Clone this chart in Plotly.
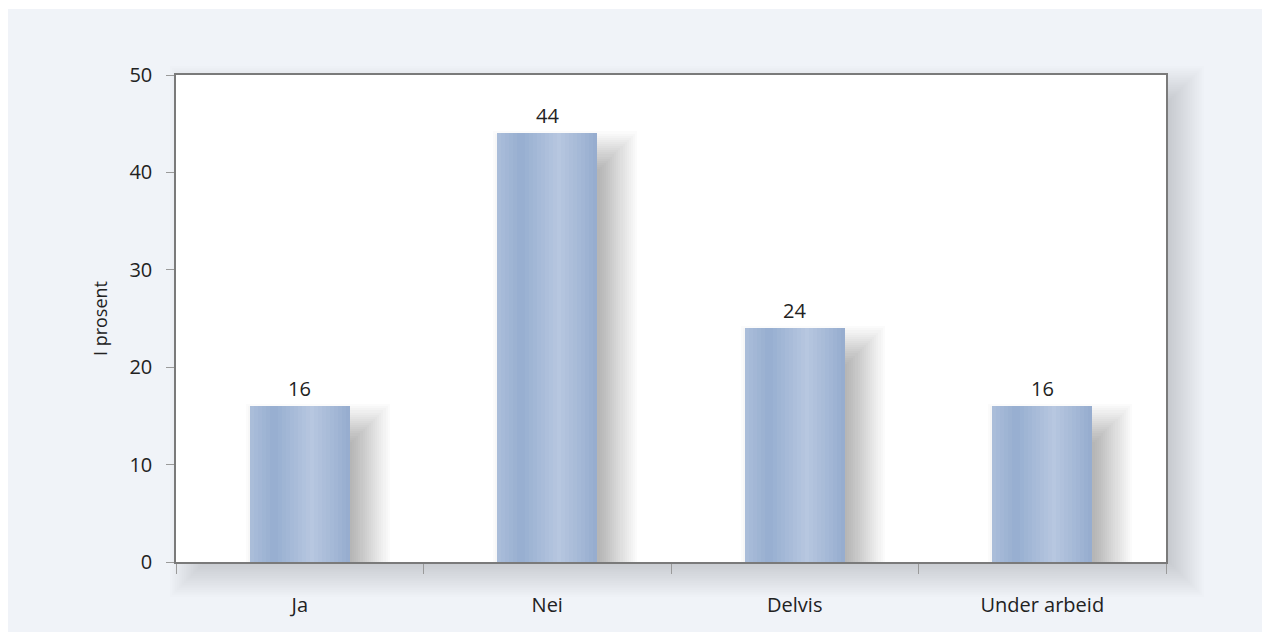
import plotly.graph_objects as go

# Survey answers (percent)
categories = ["Ja", "Nei", "Delvis", "Under arbeid"]
values = [16, 44, 24, 16]
y_ticks = [0, 10, 20, 30, 40, 50]
y_max = 50

W, H = 1270, 640
L, R, T, B = 176, 104, 75, 78
PW, PH = W - L - R, H - T - B


def px_x(px):
    return (px - L) / PW


def px_y(py):
    return (H - B - py) / PH


def lerp_color(stops, t):
    for (t0, c0), (t1, c1) in zip(stops, stops[1:]):
        if t0 <= t <= t1:
            f = (t - t0) / (t1 - t0) if t1 > t0 else 0
            return tuple(round(a + (b - a) * f) for a, b in zip(c0, c1))
    return stops[-1][1]


cat_px = PW / len(categories)
unit_px = PH / y_max
bar_w = 100 / cat_px           # bar width in category units
half = bar_w / 2

fig = go.Figure()

# soft drop shadow behind each bar: stacked translucent copies, shifted and grown
n_sh, s_blur, s_dx, s_dy = 22, 22, 18, 20
for k in range(n_sh):
    r = -s_blur + 2 * s_blur * k / (n_sh - 1)
    ux = (s_dx - r) / cat_px
    grow = 2 * r / cat_px
    fig.add_trace(go.Bar(
        x=categories, y=[v - (s_dy - r) / unit_px for v in values],
        offset=-half + ux, width=bar_w + grow,
        marker=dict(color="rgba(0,0,0,0.017)", line=dict(width=0)),
        hoverinfo="skip", showlegend=False,
    ))

# base bar
fig.add_trace(go.Bar(
    x=categories, y=values, offset=-half, width=bar_w,
    marker=dict(color="rgb(165,184,214)", line=dict(width=0)),
    hoverinfo="skip", showlegend=False,
))

# cylindrical shading across the bar
stops = [(0.0, (172, 190, 218)), (0.24, (150, 174, 208)),
         (0.62, (183, 199, 224)), (1.0, (149, 172, 206))]
n_gr = 25
gw = bar_w / n_gr
for i in range(n_gr):
    c = lerp_color(stops, (i + 0.5) / n_gr)
    fig.add_trace(go.Bar(
        x=categories, y=values, offset=-half + i * gw,
        width=gw * (1.15 if i < n_gr - 1 else 1.0),
        marker=dict(color=f"rgb{c}", line=dict(width=0)),
        hoverinfo="skip", showlegend=False,
    ))

# value labels above the bars
annotations = [
    dict(x=c, y=v, xref="x", yref="y", text=str(v), showarrow=False,
         yanchor="bottom", yshift=2,
         font=dict(size=20, color="#222222", family="Open Sans"))
    for c, v in zip(categories, values)
]

shapes = []
# light panel behind the chart
shapes.append(dict(type="rect", xref="paper", yref="paper", layer="below",
                   x0=px_x(8), x1=px_x(1262), y0=px_y(632), y1=px_y(9),
                   fillcolor="#f0f3f8", line=dict(width=0)))
# blurred drop shadow of the plot area
n_bl, blur, dx, dy = 26, 22, 16, 13
for k in range(n_bl):
    r = -blur + 2 * blur * k / (n_bl - 1)
    shapes.append(dict(type="rect", xref="paper", yref="paper", layer="below",
                       x0=px_x(L + dx - r), x1=px_x(W - R + dx + r),
                       y0=px_y(H - B + dy + r), y1=px_y(T + dy - r),
                       fillcolor="rgb(50,52,58)", opacity=0.012,
                       line=dict(width=0)))
# white plot area
shapes.append(dict(type="rect", xref="paper", yref="paper", layer="below",
                   x0=0, x1=1, y0=0, y1=1,
                   fillcolor="white", line=dict(width=0)))

font = dict(family="Open Sans", size=20, color="#222222")

fig.update_layout(
    width=W, height=H,
    margin=dict(l=L, r=R, t=T, b=B),
    paper_bgcolor="white", plot_bgcolor="rgba(0,0,0,0)",
    barmode="overlay", bargap=0,
    font=font, shapes=shapes, annotations=annotations, showlegend=False,
    xaxis=dict(
        type="category", range=[-0.5, len(categories) - 0.5],
        showline=True, mirror=True, linecolor="#7a7a7a", linewidth=1.5,
        ticks="outside", tickson="boundaries", ticklen=10,
        tickcolor="#9a9a9a", tickwidth=1,
        tickfont=font, ticklabelstandoff=24, showgrid=False,
    ),
    yaxis=dict(
        range=[0, y_max], tickvals=y_ticks,
        showline=True, mirror=True, linecolor="#7a7a7a", linewidth=1.5,
        ticks="outside", ticklen=8, tickcolor="#9a9a9a", tickwidth=1,
        tickfont=font, ticklabelstandoff=10,
        showgrid=False, zeroline=False,
        title=dict(text="I prosent", font=dict(family="Open Sans", size=18,
                                               color="#222222"), standoff=17),
    ),
)

fig.write_html("out.html")
